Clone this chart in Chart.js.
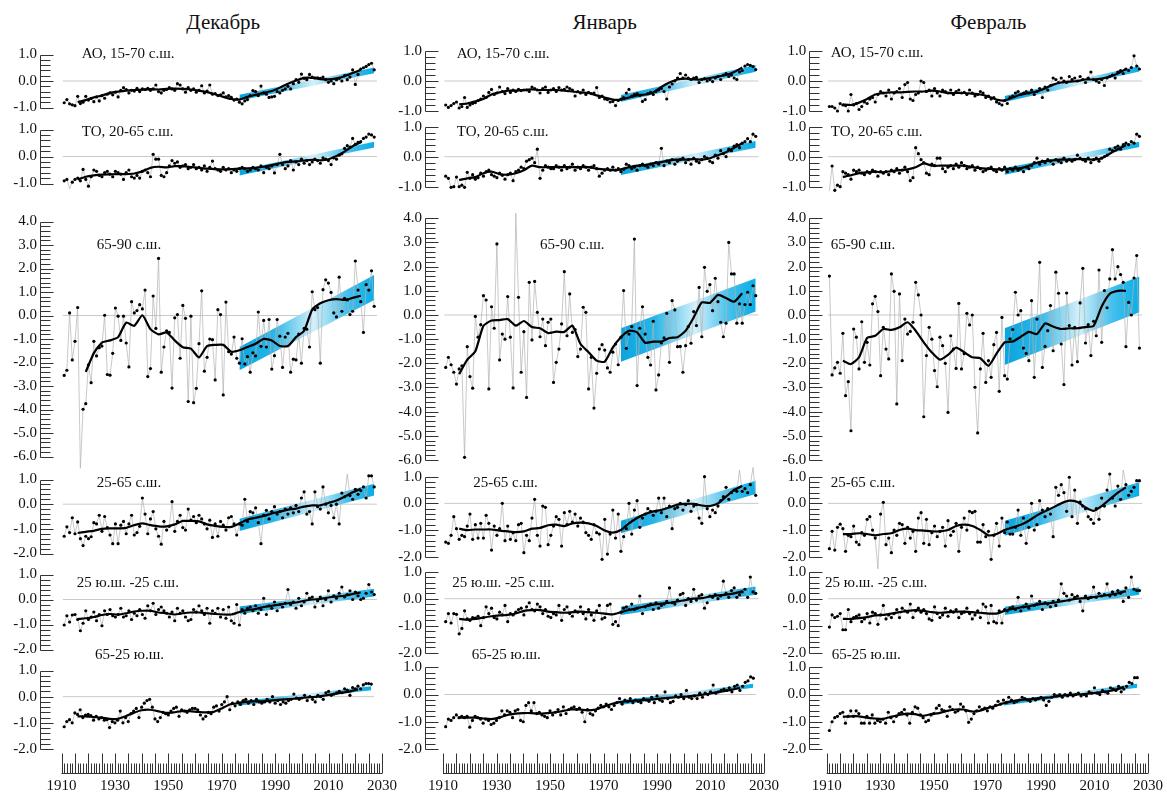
<!DOCTYPE html>
<html>
<head>
<meta charset="utf-8">
<script src="https://cdn.jsdelivr.net/npm/chart.js@4.4.1/dist/chart.umd.min.js"></script>
<style>
  body { margin: 0; background: #fff; width: 1167px; height: 794px; position: relative; overflow: hidden; font-family: 'Liberation Serif', 'Times New Roman', serif; }
  canvas { position: absolute; }
  .t { position: absolute; white-space: nowrap; color: #111; line-height: 1; transform: translateY(-50%); }
</style>
</head>
<body>
<script>
// ---- data -------------------------------------------------------------
const firstYear = 1911;
const years = Array.from({ length: 116 }, (_, i) => firstYear + i);
const smoothYears = [1916, 1919, 1922, 1925, 1928, 1931, 1934, 1937, 1940, 1943, 1946, 1949,
  1952, 1955, 1958, 1961, 1964, 1967, 1970, 1973, 1976, 1979, 1982, 1985,
  1988, 1991, 1994, 1997, 2000, 2003, 2006, 2009, 2012, 2015, 2018, 2021];
const trendYears = [1976, 2026];

const monthNames = ['Декабрь', 'Январь', 'Февраль'];
const zoneNames = ['АО, 15-70 с.ш.', 'ТО, 20-65 с.ш.', '65-90 с.ш.', '25-65 с.ш.', '25 ю.ш. -25 с.ш.', '65-25 ю.ш.'];
const xTickLabels = [1910, 1930, 1950, 1970, 1990, 2010, 2030];

// December
const decAO = [-0.82,-0.70,-0.86,-0.90,-0.93,-0.58,-0.85,-0.80,-0.58,-0.72,
  -0.66,-0.78,-0.60,-0.75,-0.55,-0.65,-0.50,-0.45,-0.52,-0.42,
  -0.60,-0.35,-0.25,-0.32,-0.45,-0.35,-0.38,-0.28,-0.40,-0.30,
  -0.32,-0.28,-0.35,-0.30,-0.15,-0.40,-0.45,-0.35,-0.32,-0.25,
  -0.30,-0.35,-0.10,-0.15,-0.30,-0.42,-0.25,-0.35,-0.30,-0.42,
  -0.35,-0.18,-0.45,-0.38,-0.15,-0.50,-0.48,-0.55,-0.52,-0.45,
  -0.60,-0.55,-0.62,-0.72,-0.68,-0.80,-0.86,-0.75,-0.70,-0.55,
  -0.36,-0.40,-0.55,-0.19,-0.45,-0.50,-0.62,-0.60,-0.58,-0.40,
  -0.45,-0.35,-0.30,-0.20,-0.30,-0.10,0.05,-0.05,0.26,0.10,
  0.05,0.25,0.15,0.12,0.12,0.10,0.15,0.05,-0.05,0.00,
  -0.10,0.05,0.10,0.00,0.20,0.05,0.15,0.42,-0.13,0.25,
  0.45,0.50,0.55,0.62,0.67,0.42];
const decAOSm = [-0.80,-0.72,-0.62,-0.55,-0.45,-0.40,-0.36,-0.34,-0.33,-0.31,-0.32,-0.30,
  -0.29,-0.30,-0.32,-0.36,-0.42,-0.50,-0.60,-0.68,-0.70,-0.60,-0.52,-0.45,
  -0.38,-0.25,-0.10,0.02,0.12,0.12,0.07,0.06,0.10,0.18,0.30,0.42];
const decAOUp = [-0.52, 0.51];
const decAOLo = [-0.74, 0.29];

const decTO = [-0.90,-0.85,-1.20,-0.95,-0.85,-0.80,-0.90,-0.48,-0.85,-1.10,
  -0.75,-0.50,-0.55,-0.70,-0.75,-0.60,-0.55,-0.65,-0.75,-0.55,
  -0.60,-0.65,-0.85,-0.60,-0.50,-0.75,-0.80,-0.70,-0.80,-0.55,
  -0.50,-0.60,-0.75,0.08,-0.10,-0.10,-0.70,-0.75,-0.60,-0.35,
  -0.15,-0.25,-0.20,-0.40,-0.35,-0.30,-0.45,-0.40,-0.30,-0.45,
  -0.40,-0.50,-0.35,-0.55,-0.40,-0.17,-0.45,-0.50,-0.55,-0.40,
  -0.50,-0.45,-0.60,-0.50,-0.55,-0.45,-0.40,-0.45,-0.55,-0.50,
  -0.40,-0.45,-0.50,-0.35,-0.60,-0.40,-0.45,-0.35,-0.61,-0.30,
  0.08,-0.30,-0.45,-0.35,-0.15,-0.50,-0.20,-0.30,-0.10,-0.25,
  -0.15,-0.30,-0.20,-0.10,-0.15,-0.25,-0.05,-0.10,-0.15,-0.30,
  -0.05,-0.10,0.05,0.10,0.30,0.40,0.35,0.67,0.45,0.52,
  0.55,0.67,0.72,0.83,0.80,0.72];
const decTOSm = [-0.85,-0.75,-0.70,-0.67,-0.66,-0.65,-0.65,-0.63,-0.55,-0.42,-0.38,-0.40,
  -0.36,-0.36,-0.39,-0.42,-0.45,-0.47,-0.48,-0.47,-0.45,-0.44,-0.42,-0.38,
  -0.32,-0.25,-0.20,-0.18,-0.15,-0.12,-0.14,-0.10,0.02,0.18,0.38,0.52];
const decTOUp = [-0.50, 0.55];
const decTOLo = [-0.70, 0.33];

const decArc = [-2.55,-2.33,0.11,-1.89,-1.10,0.34,-6.50,-3.99,-3.75,-2.10,
  -2.86,-1.10,-1.72,-1.37,-1.30,0.01,-2.51,-2.54,-1.61,0.32,
  -0.03,-1.06,-0.03,-1.17,-2.19,0.59,0.11,0.21,0.46,0.28,
  1.08,-2.60,-2.26,0.83,-0.55,2.43,-2.41,-1.34,-0.65,-0.72,
  -3.09,-0.10,0.04,-1.82,0.43,-0.12,-3.66,-0.03,-3.71,-3.10,
  -1.20,1.05,-2.37,-1.78,-1.00,-1.03,-2.74,0.25,0.04,-3.38,
  0.57,-1.54,-1.64,-0.92,-1.82,-2.03,-0.99,-2.06,-1.75,-2.41,
  -1.59,-1.72,0.15,-1.31,-0.21,-1.34,-0.17,-2.28,-1.71,-0.17,
  -0.88,-2.21,-0.92,-0.76,-2.41,-1.86,-1.89,-0.79,-2.03,-0.55,
  -0.58,-1.34,1.01,0.25,0.34,-2.03,1.10,1.52,1.38,0.98,
  0.11,-0.06,1.63,0.18,0.73,0.66,0.04,0.18,2.32,1.08,
  0.59,-0.72,1.31,1.08,1.90,0.39];
const decArcSm = [null,-2.40,-1.60,-1.15,-1.06,-0.92,-0.30,-0.44,0.01,-0.58,-0.80,-0.72,
  -1.06,-1.35,-1.41,-1.78,-1.30,-1.25,-1.25,-1.54,-1.48,-1.34,-1.20,-1.00,
  -1.06,-1.30,-1.30,-0.92,-0.65,0.25,0.52,0.65,0.70,0.66,0.75,0.84];
const decArcUp = [-1.34, 1.72];
const decArcLo = [-2.33, 0.66];

const decMid = [-1.30,-0.92,-1.15,-0.55,-1.20,-0.72,-1.40,-1.68,-1.30,-1.40,
  -1.32,-0.75,-0.80,-0.45,-1.10,-0.50,-0.95,-1.25,-1.60,-0.80,
  -1.60,-0.85,-0.70,-1.20,-0.80,-0.45,-1.25,-1.15,-0.90,0.25,
  -0.40,-1.20,-0.60,-0.30,-1.00,-1.30,-1.62,-0.70,-1.05,-0.90,
  0.10,-1.10,-0.70,-0.45,-0.95,-1.05,-0.20,-0.65,-0.50,-0.75,
  -0.45,-0.60,-0.80,-1.00,-0.65,-1.35,-0.80,-1.30,-0.70,-0.85,
  -1.05,-0.55,-0.50,-0.80,-1.25,-0.80,-0.85,0.20,-0.70,-0.30,
  -0.35,-0.15,-0.75,-1.60,-0.45,-0.25,-0.60,-0.30,-0.10,-0.40,
  -0.30,-0.55,-0.20,-0.40,-0.15,-0.35,-0.05,-0.30,0.25,0.50,
  -0.40,-0.30,-0.80,0.50,-0.10,-0.20,0.70,0.00,-0.35,-0.05,
  -0.55,0.00,-0.80,0.45,0.30,1.22,0.35,0.20,0.60,0.40,
  0.55,0.70,0.25,1.15,1.15,0.70];
const decMidSm = [-1.17,-1.12,-1.08,-1.00,-0.98,-0.98,-0.96,-0.85,-0.78,-0.85,-0.90,-0.90,
  -0.82,-0.68,-0.68,-0.70,-0.82,-0.88,-0.92,-0.92,-0.78,-0.62,-0.55,-0.48,
  -0.38,-0.30,-0.22,-0.18,-0.10,-0.05,-0.05,0.05,0.15,0.30,0.48,0.62];
const decMidUp = [-0.59, 0.83];
const decMidLo = [-1.09, 0.35];

const decTrop = [-1.02,-0.65,-0.90,-0.62,-0.60,-0.80,-1.25,-0.95,-0.45,-0.80,
  -0.70,-0.50,-0.85,-0.60,-1.05,-0.45,-0.60,-0.40,-0.65,-0.70,
  -0.60,-0.35,-0.70,-0.65,-0.45,-0.80,-0.55,-0.65,-0.40,-0.60,
  -0.75,-0.25,-0.45,-0.15,-0.60,-0.40,-0.30,-0.45,-0.55,-0.70,
  -0.50,-0.85,-0.35,-0.55,-0.45,-0.70,-0.85,-0.80,-0.40,-0.50,
  -0.25,-0.45,-0.60,-0.35,-0.95,-0.45,-0.55,-0.35,-0.70,-0.40,
  -0.75,-0.30,-0.85,-0.95,-0.20,-1.02,-0.40,-0.55,-0.35,-0.30,
  -0.45,-0.25,-0.55,-0.40,0.05,-0.60,-0.25,-0.35,-0.10,-0.45,
  -0.20,-0.30,-0.15,0.40,-0.20,-0.10,-0.35,0.05,-0.25,-0.10,
  0.25,0.05,0.10,-0.30,-0.05,0.10,-0.25,0.00,0.35,-0.10,
  0.15,0.05,0.25,0.50,0.10,0.20,0.35,0.00,0.30,0.15,
  0.00,0.05,0.25,0.60,0.30,0.20];
const decTropSm = [-0.78,-0.75,-0.70,-0.62,-0.58,-0.60,-0.55,-0.48,-0.45,-0.45,-0.52,-0.55,
  -0.60,-0.55,-0.52,-0.52,-0.55,-0.58,-0.60,-0.60,-0.50,-0.42,-0.38,-0.30,
  -0.25,-0.20,-0.15,-0.12,-0.05,0.00,0.02,0.08,0.12,0.15,0.22,0.28];
const decTropUp = [-0.28, 0.43];
const decTropLo = [-0.58, 0.12];

const decSouth = [-1.15,-0.95,-0.88,-1.00,-0.62,-0.68,-0.50,-0.80,-0.70,-0.68,
  -0.72,-0.90,-0.75,-0.85,-0.80,-0.90,-0.88,-1.18,-0.95,-1.00,
  -0.90,-0.55,-1.00,-0.80,-0.95,-0.65,-0.55,-0.45,-0.80,-0.40,
  -0.25,-0.15,-0.10,-0.40,-0.85,-0.95,-0.80,-0.60,-0.65,-0.70,
  -0.55,-0.45,-0.40,-0.75,-0.50,-0.55,-0.60,-0.50,-0.45,-0.45,
  -0.50,-0.70,-0.85,-0.75,-0.60,-0.65,-0.40,-0.35,-0.55,-0.30,
  -0.20,0.00,-0.50,-0.25,-0.35,-0.20,-0.30,-0.15,-0.10,-0.25,
  -0.15,-0.30,-0.10,-0.20,-0.25,-0.20,-0.10,-0.20,0.00,-0.25,
  -0.15,-0.30,-0.20,-0.25,-0.15,-0.10,0.10,-0.05,-0.10,-0.05,
  0.05,-0.15,0.00,-0.10,-0.20,0.05,0.00,-0.10,0.15,0.20,
  0.05,0.10,0.15,0.20,0.15,0.30,0.25,0.05,0.35,0.30,
  0.40,0.30,0.45,0.50,0.50,0.48];
const decSouthSm = [-0.75,-0.75,-0.78,-0.80,-0.85,-0.85,-0.75,-0.62,-0.52,-0.50,-0.55,-0.62,
  -0.60,-0.55,-0.55,-0.58,-0.60,-0.58,-0.45,-0.30,-0.25,-0.20,-0.18,-0.18,
  -0.15,-0.12,-0.10,-0.08,-0.05,-0.02,0.00,0.05,0.10,0.15,0.20,0.28];
const decSouthUp = [-0.18, 0.40];
const decSouthLo = [-0.35, 0.25];

// January
const janAO = [-0.80,-0.88,-0.82,-0.75,-0.70,-0.90,-0.85,-0.55,-0.88,-0.80,
  -0.75,-0.72,-0.65,-0.60,-0.50,-0.55,-0.38,-0.28,-0.45,-0.40,
  -0.20,-0.35,-0.42,-0.25,-0.38,-0.30,-0.35,-0.28,-0.32,-0.30,
  -0.30,-0.35,-0.20,-0.25,-0.30,-0.40,-0.25,-0.20,-0.38,-0.30,
  -0.25,-0.35,-0.22,-0.30,-0.28,-0.20,-0.25,-0.30,-0.50,-0.35,
  -0.40,-0.30,-0.45,-0.38,-0.42,-0.40,-0.22,-0.55,-0.50,-0.60,
  -0.62,-0.70,-0.68,-0.82,-0.65,-0.60,-0.55,-0.40,-0.28,-0.50,
  -0.45,-0.42,-0.48,-0.68,-0.62,-0.42,-0.38,-0.45,-0.35,-0.30,
  -0.25,-0.35,-0.60,-0.20,-0.10,0.00,0.10,0.25,0.10,0.20,
  0.10,0.05,0.10,0.12,-0.05,0.05,0.08,0.00,0.05,-0.02,
  0.10,0.15,0.05,0.20,0.25,0.15,0.20,0.10,0.05,0.30,
  0.35,0.50,0.55,0.52,0.48,0.38];
const janAOSm = [-0.78,-0.75,-0.68,-0.60,-0.45,-0.38,-0.32,-0.32,-0.30,-0.28,-0.30,-0.30,
  -0.30,-0.32,-0.35,-0.38,-0.40,-0.48,-0.55,-0.62,-0.62,-0.55,-0.48,-0.45,
  -0.38,-0.20,-0.05,0.05,0.08,0.05,0.05,0.10,0.15,0.20,0.30,0.45];
const janAOUp = [-0.47, 0.53];
const janAOLo = [-0.69, 0.31];

const janTO = [-0.65,-0.72,-1.02,-1.00,-0.68,-1.00,-0.95,-1.02,-0.52,-0.72,
  -0.60,-0.75,-0.70,-0.55,-0.65,-0.50,-0.45,-0.60,-0.65,-0.70,
  -0.55,-0.62,-0.75,-0.60,-0.55,-0.80,-0.50,-0.45,-0.35,-0.40,
  -0.15,-0.10,-0.05,-0.20,0.25,-0.72,-0.45,-0.30,-0.35,-0.40,
  -0.40,-0.30,-0.35,-0.45,-0.30,-0.40,-0.35,-0.25,-0.45,-0.35,
  -0.40,-0.30,-0.35,-0.45,-0.35,-0.30,-0.40,-0.65,-0.55,-0.45,
  -0.40,-0.45,-0.35,-0.45,-0.40,-0.50,-0.42,-0.25,-0.30,-0.40,
  -0.35,-0.45,-0.30,-0.25,-0.30,-0.35,-0.25,-0.30,-0.20,-0.25,
  0.28,-0.30,-0.15,-0.20,-0.10,-0.25,-0.15,-0.10,-0.05,-0.20,
  -0.10,-0.25,-0.05,-0.15,-0.20,-0.10,0.00,-0.05,-0.15,-0.20,
  0.05,-0.05,0.20,0.10,0.00,0.25,0.20,0.35,0.40,0.30,
  0.45,0.50,0.60,0.50,0.75,0.68];
const janTOSm = [-0.78,-0.72,-0.68,-0.55,-0.50,-0.58,-0.60,-0.55,-0.45,-0.30,-0.35,-0.35,
  -0.35,-0.35,-0.35,-0.35,-0.35,-0.40,-0.42,-0.45,-0.42,-0.35,-0.30,-0.28,
  -0.22,-0.18,-0.12,-0.10,-0.10,-0.08,-0.10,-0.05,0.05,0.15,0.30,0.45];
const janTOUp = [-0.39, 0.52];
const janTOLo = [-0.61, 0.30];

const janArc = [-2.17,-1.75,-2.06,-2.37,-2.86,-2.23,-2.10,-5.89,-1.31,-2.55,
  -3.03,-0.06,-0.92,-0.40,0.80,0.62,-3.06,0.34,-0.55,2.94,
  -1.86,-0.79,-1.00,0.76,-0.92,-3.02,4.21,0.73,-2.37,-0.69,
  -3.41,1.35,-1.03,1.39,0.11,-0.90,-0.17,-1.27,-0.30,-0.17,
  -2.79,-1.96,-1.41,-0.37,1.79,-0.86,0.87,-0.72,-0.60,-1.72,
  -1.41,0.32,0.11,-3.06,-1.75,-3.85,-2.41,-1.41,-1.23,-1.45,
  -2.19,-2.37,-1.54,-1.20,-2.06,-0.92,1.01,-1.38,-0.79,-0.48,
  3.14,-2.92,-0.55,0.34,-0.79,-1.75,-2.07,-0.26,-3.10,-2.48,
  -1.16,-0.95,0.07,-1.96,0.59,0.21,-1.31,-1.30,-2.37,-1.27,
  -0.48,-1.17,0.14,-0.44,1.14,-0.90,1.97,0.98,1.26,0.18,
  1.52,0.55,-0.30,-0.90,-0.34,3.00,1.70,1.70,-0.34,0.46,
  -0.34,0.43,0.94,0.43,1.21,0.80];
const janArcSm = [-2.45,-1.85,-1.50,-0.45,-0.23,-0.21,-0.17,-0.44,-0.25,-0.50,-0.55,-0.75,
  -0.69,-0.70,-0.44,-1.20,-1.54,-1.89,-1.93,-1.34,-0.92,-0.65,-0.72,-1.15,
  -1.10,-1.10,-0.95,-0.92,-0.65,-0.10,0.52,0.50,0.83,0.70,0.55,0.90];
const janArcUp = [-0.55, 1.52];
const janArcLo = [-1.93, 0.14];

const janMid = [-1.45,-1.50,-1.20,-0.50,-0.95,-1.35,-1.20,-1.25,-0.85,-0.40,
  -1.35,-0.80,-1.30,-0.75,-1.30,-0.45,-0.75,-1.75,-0.85,-1.20,
  -0.95,0.00,-1.40,-0.85,-1.35,-1.10,-1.40,-0.80,-0.75,-1.85,
  -1.20,-1.40,-0.55,0.15,-1.20,-1.60,-0.10,-0.15,-1.55,-1.20,
  -0.85,-0.50,-0.60,-1.60,-0.35,-0.80,-0.30,-0.70,-0.40,-0.85,
  -0.55,-0.70,-1.10,-1.20,-1.35,-0.80,-1.10,-1.15,-2.10,-0.60,
  -1.90,-1.15,-0.25,-1.30,-0.40,-1.80,-1.25,-0.95,0.00,-1.15,
  -0.25,0.10,-0.90,-0.55,-0.40,-0.20,-0.30,-0.45,-0.30,0.20,
  -0.35,0.20,-0.50,-0.10,-0.95,-0.20,-0.15,0.00,-0.25,-0.05,
  0.10,-0.30,-0.10,-0.05,-0.55,-0.75,1.00,-0.20,-0.50,-0.25,
  -0.35,-0.10,0.10,0.25,0.60,0.15,0.40,0.50,0.45,1.25,
  0.45,0.55,0.40,0.70,1.35,0.30];
const janMidSm = [-0.95,-1.00,-0.98,-0.98,-0.98,-1.02,-1.05,-1.08,-1.05,-0.95,-0.92,-0.82,
  -0.80,-0.85,-0.75,-0.72,-0.75,-0.85,-1.02,-1.10,-1.00,-0.75,-0.55,-0.40,
  -0.30,-0.25,-0.15,-0.05,-0.02,-0.02,-0.08,-0.10,0.00,0.25,0.50,0.65];
const janMidUp = [-0.65, 0.85];
const janMidLo = [-1.12, 0.35];

const janTrop = [-0.85,-0.55,-0.90,-0.55,-0.58,-1.30,-1.10,-0.45,-0.75,-0.80,
  -0.70,-0.72,-0.65,-1.00,-0.70,-0.30,-0.55,-0.35,-0.70,-0.75,
  -0.50,-0.60,-0.25,-0.85,-0.55,-0.60,-0.50,-0.40,-0.35,-0.60,
  -0.30,-0.15,-0.40,-0.45,-0.20,-0.30,-0.55,-0.40,-0.65,-0.70,
  -0.55,-0.60,-0.25,-0.80,-0.40,-0.30,-0.55,-0.65,-0.45,-0.50,
  -0.30,-0.55,-0.75,-0.40,-0.60,-0.80,-0.45,-0.25,-0.75,-0.70,
  -0.25,-0.20,-0.95,-0.85,-1.00,-0.50,-0.35,-0.30,-0.40,-0.20,
  -0.40,-0.35,0.10,-0.55,-0.30,-0.25,-0.20,-0.40,-0.15,-0.35,
  -0.25,-0.20,-0.10,0.40,-0.15,-0.20,-0.05,0.15,0.20,-0.25,
  0.00,-0.10,0.35,-0.05,0.10,0.15,-0.35,-0.15,0.10,0.05,
  0.15,0.00,0.10,0.65,0.20,0.05,0.30,0.40,0.05,0.15,
  0.25,0.35,0.05,0.80,0.25,0.20];
const janTropSm = [-0.75,-0.78,-0.75,-0.70,-0.65,-0.62,-0.60,-0.55,-0.45,-0.42,-0.42,-0.48,
  -0.50,-0.52,-0.50,-0.48,-0.50,-0.52,-0.55,-0.58,-0.50,-0.42,-0.35,-0.28,
  -0.22,-0.18,-0.15,-0.10,-0.05,0.00,0.02,0.08,0.12,0.15,0.20,0.27];
const janTropUp = [-0.30, 0.45];
const janTropLo = [-0.60, 0.15];

const janSouth = [-1.18,-0.90,-0.95,-0.85,-0.75,-0.85,-0.80,-0.85,-0.80,-1.20,
  -0.95,-0.80,-0.85,-0.90,-1.05,-0.90,-0.95,-1.10,-1.05,-0.95,
  -0.85,-0.60,-0.75,-0.60,-0.65,-0.85,-0.60,-0.55,-0.95,-1.00,
  -0.40,-0.30,-0.60,-0.30,-0.70,-0.65,-0.75,-0.80,-0.85,-0.60,
  -0.75,-0.65,-0.55,-0.75,-0.45,-0.70,-0.55,-0.50,-0.45,-0.55,
  -0.50,-0.65,-1.00,-0.55,-0.70,-0.75,-0.60,-0.50,-0.40,-0.45,
  -0.35,-0.45,-0.55,-0.40,-0.30,-0.15,-0.35,-0.20,-0.25,-0.15,
  -0.30,-0.20,-0.25,-0.30,-0.15,-0.20,-0.25,-0.10,-0.30,-0.05,
  -0.20,-0.25,0.10,-0.15,-0.30,-0.25,-0.05,-0.10,0.00,-0.15,
  0.15,-0.10,-0.15,-0.05,-0.15,0.05,-0.10,0.05,0.00,0.10,
  0.35,0.05,0.10,0.15,0.20,0.15,0.25,0.10,0.30,0.35,
  0.15,0.30,0.45,0.50,0.65,0.60];
const janSouthSm = [-0.85,-0.85,-0.85,-0.88,-0.90,-0.85,-0.75,-0.70,-0.68,-0.68,-0.70,-0.68,
  -0.65,-0.60,-0.55,-0.55,-0.58,-0.55,-0.45,-0.35,-0.28,-0.25,-0.22,-0.20,
  -0.18,-0.15,-0.12,-0.10,-0.08,-0.05,-0.02,0.02,0.08,0.12,0.18,0.25];
const janSouthUp = [-0.22, 0.40];
const janSouthLo = [-0.38, 0.25];

// February
const febAO = [-0.85,-0.85,-0.90,-1.00,-0.75,-0.80,-0.82,-1.00,-0.45,-0.80,
  -0.75,-0.95,-0.85,-0.70,-0.75,-0.60,-0.55,-0.70,-0.45,-0.35,
  -0.40,-0.50,-0.30,-0.60,-0.40,-0.35,-0.25,-0.55,-0.12,-0.05,
  -0.60,-0.65,-0.45,-0.40,0.00,-0.05,-0.35,-0.30,-0.50,-0.25,
  -0.40,-0.50,-0.30,-0.35,-0.40,-0.30,-0.45,-0.35,-0.30,-0.40,
  -0.38,-0.45,-0.30,-0.40,-0.50,-0.45,-0.35,-0.40,-0.55,-0.50,
  -0.60,-0.55,-0.70,-0.75,-0.80,-0.65,-0.75,-0.55,-0.50,-0.40,
  -0.35,-0.45,-0.40,-0.35,-0.40,-0.30,-0.45,-0.35,-0.25,-0.55,
  -0.20,-0.30,-0.15,0.10,0.05,-0.05,0.10,0.00,-0.05,0.15,
  0.05,0.10,0.00,0.15,0.05,-0.05,0.10,0.30,0.05,0.00,
  -0.05,0.05,-0.15,0.10,0.15,0.20,0.10,0.30,0.35,0.25,
  0.40,0.35,0.45,0.84,0.50,0.40];
const febAOSm = [-0.78,-0.80,-0.72,-0.60,-0.45,-0.40,-0.38,-0.38,-0.36,-0.35,-0.35,-0.32,
  -0.35,-0.40,-0.40,-0.40,-0.42,-0.45,-0.52,-0.62,-0.65,-0.55,-0.45,-0.40,
  -0.35,-0.25,-0.12,-0.05,-0.02,0.00,0.05,0.05,0.08,0.15,0.25,0.40];
const febAOUp = [-0.50, 0.50];
const febAOLo = [-0.70, 0.32];

const febTO = [-1.14,-0.31,-1.12,-0.95,-1.00,-0.50,-0.55,-0.60,-0.75,-0.45,
  -0.50,-0.45,-0.55,-0.60,-0.50,-0.55,-0.45,-0.50,-0.65,-0.50,
  -0.55,-0.50,-0.60,-0.45,-0.50,-0.40,-0.55,-0.45,-0.35,-0.50,
  -0.80,-0.70,0.30,0.10,-0.10,-0.20,-0.55,-0.60,-0.25,-0.30,
  -0.05,-0.05,-0.40,-0.50,-0.35,-0.30,-0.40,-0.25,-0.35,-0.20,
  -0.30,-0.40,-0.35,-0.30,-0.45,-0.35,-0.40,-0.50,-0.45,-0.40,
  -0.35,-0.45,-0.50,-0.40,-0.45,-0.35,-0.50,-0.40,-0.45,-0.35,
  -0.45,-0.40,-0.50,-0.35,-0.40,-0.30,-0.20,-0.05,-0.25,-0.15,
  -0.20,-0.10,-0.15,-0.25,-0.10,-0.15,-0.20,-0.05,-0.15,-0.10,
  -0.15,-0.10,0.05,-0.05,-0.10,-0.15,-0.05,-0.20,-0.10,-0.05,
  -0.15,-0.05,0.00,0.05,0.25,0.20,0.30,0.35,0.25,0.40,
  0.45,0.40,0.50,0.45,0.75,0.68];
const febTOSm = [-0.68,-0.62,-0.55,-0.52,-0.50,-0.52,-0.48,-0.45,-0.42,-0.35,-0.22,-0.30,
  -0.30,-0.30,-0.30,-0.30,-0.35,-0.38,-0.40,-0.42,-0.42,-0.40,-0.38,-0.30,
  -0.20,-0.15,-0.12,-0.10,-0.10,-0.08,-0.08,-0.10,-0.05,0.10,0.25,0.38];
const febTOUp = [-0.38, 0.50];
const febTOLo = [-0.60, 0.32];

const febArc = [1.61,-2.48,-2.19,-1.96,-2.41,-0.76,-3.34,-2.76,-4.79,-0.58,
  -0.92,-2.23,-0.28,-1.96,-1.13,-2.07,0.46,0.77,0.14,-2.51,
  -0.51,-1.41,-1.82,1.70,0.98,-3.68,0.87,-1.89,-0.17,-0.79,
  -0.68,-0.30,1.35,0.83,0.00,-4.21,-1.68,-0.51,-1.00,-2.30,
  -2.97,-0.92,-1.27,-2.00,-4.03,-0.86,-1.41,-2.21,0.48,-2.23,
  -1.60,0.07,-0.41,0.00,-2.99,-4.88,-2.23,-0.76,-2.79,-1.89,
  -2.58,-1.23,-0.72,-3.16,-0.10,-2.51,-2.65,-0.99,-0.60,0.94,
  0.00,0.18,-1.37,-1.59,-1.89,0.59,-2.58,-0.17,2.18,-2.17,
  -1.30,-0.65,0.39,-1.48,1.77,0.90,-1.20,-2.88,0.91,-0.44,
  -2.07,-0.51,-1.93,0.50,1.93,-1.16,-0.40,-1.68,-0.26,-0.86,
  1.86,-1.13,1.01,0.30,1.49,2.70,1.49,2.00,1.67,1.35,
  -1.31,0.52,0.00,1.53,2.46,-1.37];
const febArcSm = [-1.89,-2.03,-1.75,-0.95,-0.86,-0.58,-0.62,-0.51,-0.30,-0.65,-1.13,-1.55,
  -1.85,-1.65,-1.35,-1.54,-1.75,-1.79,-2.10,-1.60,-1.13,-1.10,-0.90,-0.70,
  -0.79,-0.35,-0.48,-0.58,-0.55,-0.55,-0.50,-0.45,0.35,0.88,1.00,1.00];
const febArcUp = [-0.55, 1.59];
const febArcLo = [-2.07, 0.11];

const febMid = [-1.70,-1.05,-1.75,-0.90,-0.78,-0.95,-1.80,-1.20,-1.25,-0.85,
  -1.45,-1.55,-1.10,-1.20,-0.60,-0.50,-1.00,-1.30,-2.46,-0.40,
  0.04,-1.55,-1.30,-1.85,-1.00,-1.20,-0.75,-0.80,-1.50,-0.90,
  -1.30,-1.05,-1.80,-0.55,-0.35,-1.50,-0.60,-1.55,-1.10,-0.85,
  -1.25,-1.05,-0.90,-1.60,-0.65,-1.20,-1.05,-0.75,-1.80,-0.90,
  -0.55,-1.00,-0.30,-0.35,-0.30,-1.45,-1.45,-0.80,-1.25,-1.05,
  -2.10,-1.20,-0.75,-1.60,-0.55,-1.10,-0.70,-1.15,-1.15,-0.90,
  -0.25,-1.20,-0.55,-1.50,-0.90,0.00,-1.00,-0.80,0.10,-0.25,
  -0.50,-0.20,-0.40,-1.25,0.60,0.30,0.70,0.40,-0.30,0.98,
  -0.50,0.50,-0.75,0.05,-0.10,-0.20,-0.50,-0.60,-0.75,-0.20,
  -0.60,0.20,-0.10,0.50,1.10,0.20,-0.10,0.65,0.15,1.25,
  0.70,0.30,0.45,0.60,0.85,0.85];
const febMidSm = [-1.15,-1.15,-1.12,-1.15,-1.20,-1.15,-1.12,-1.00,-0.95,-1.00,-1.02,-1.05,
  -1.05,-1.00,-0.85,-0.80,-0.85,-1.00,-1.20,-1.15,-1.00,-0.90,-0.80,-0.65,
  -0.45,-0.30,-0.15,0.00,0.10,0.05,-0.15,-0.28,-0.10,0.15,0.40,0.60];
const febMidUp = [-0.65, 0.79];
const febMidLo = [-1.21, 0.29];

const febTrop = [-1.05,-0.60,-0.70,-0.65,-0.55,-1.15,-1.15,-0.40,-0.85,-0.70,
  -0.65,-0.60,-0.85,-0.75,-0.55,-0.90,-0.50,-0.55,-0.95,-0.60,
  -0.25,-0.75,-0.60,-0.70,-0.55,-0.40,-0.70,-0.35,-0.45,-0.50,
  -0.20,-0.70,-0.45,-0.35,-0.50,-0.40,-0.55,-0.75,-0.80,-0.30,
  -0.55,-0.70,-0.60,-0.35,-0.65,-0.45,-0.50,-0.40,-0.70,-0.55,
  -0.50,-0.35,-0.55,-0.75,-0.60,-0.45,-0.70,-0.20,-0.30,-0.90,
  -0.25,-0.85,-0.90,-0.45,-0.90,-0.40,-0.45,-0.35,-0.30,-0.40,
  0.05,-0.45,-0.30,-0.20,-0.35,0.10,-0.25,-0.20,-0.10,-0.40,
  -0.15,-0.20,-0.30,-0.10,-0.25,-0.05,0.55,0.20,0.10,-0.05,
  0.15,0.05,0.10,-0.10,-0.45,0.10,0.00,0.05,0.43,0.05,
  0.20,0.10,0.15,0.55,0.10,0.25,0.15,0.30,0.20,-0.10,
  0.40,0.05,0.80,0.35,0.30,0.30];
const febTropSm = [-0.75,-0.75,-0.72,-0.68,-0.62,-0.60,-0.55,-0.50,-0.45,-0.42,-0.45,-0.50,
  -0.52,-0.50,-0.48,-0.48,-0.50,-0.52,-0.55,-0.55,-0.45,-0.38,-0.32,-0.28,
  -0.22,-0.18,-0.15,-0.10,-0.05,0.00,0.02,0.06,0.10,0.15,0.20,0.28];
const febTropUp = [-0.30, 0.42];
const febTropLo = [-0.60, 0.15];

const febSouth = [-1.32,-1.00,-0.85,-0.80,-0.70,-0.65,-1.05,-0.80,-0.60,-0.80,
  -0.60,-0.70,-1.05,-1.05,-0.80,-1.05,-0.75,-1.05,-0.95,-1.00,
  -0.90,-1.05,-0.65,-0.85,-1.00,-0.80,-0.70,-0.65,-0.55,-0.75,
  -1.05,-0.65,-0.45,-0.50,-0.75,-0.85,-1.00,-0.95,-0.75,-0.70,
  -0.50,-0.40,-0.55,-0.60,-0.80,-0.45,-0.55,-0.65,-0.60,-0.35,
  -0.45,-0.60,-1.02,-0.90,-0.70,-0.60,-0.45,-0.55,-0.50,-0.60,
  -0.45,-0.50,-0.40,-0.25,-0.35,-0.20,-0.30,-0.10,-0.20,-0.30,
  -0.25,-0.20,-0.10,-0.15,-0.20,-0.25,-0.15,-0.20,-0.15,-0.10,
  -0.20,-0.40,-0.25,-0.10,0.00,-0.05,0.00,-0.10,0.00,-0.05,
  0.05,-0.05,0.00,0.05,-0.05,0.00,-0.05,0.10,0.05,0.25,
  0.05,0.00,0.15,0.10,0.05,0.25,0.20,0.15,0.30,0.10,
  0.20,0.30,0.45,0.40,0.62,0.62];
const febSouthSm = [-0.82,-0.80,-0.80,-0.85,-0.88,-0.90,-0.82,-0.75,-0.70,-0.72,-0.78,-0.72,
  -0.68,-0.60,-0.55,-0.55,-0.62,-0.60,-0.50,-0.42,-0.32,-0.25,-0.20,-0.18,
  -0.15,-0.12,-0.10,-0.05,-0.02,0.00,0.02,0.05,0.08,0.12,0.18,0.28];
const febSouthUp = [-0.25, 0.40];
const febSouthLo = [-0.40, 0.25];

// ---- layout -----------------------------------------------------------
const colX = [61.5, 443, 826.7];          // pixel of 1910 in each column
const colW = 323.5;                       // 1910..2030
const axisGap = [21.5, 18, 17.5];         // y axis line left of 1910
const rowBox = [[51, 111], [126.7, 186.7], [218.3, 460], [476.7, 556.7], [571.7, 652.7], [667.3, 749]];
const rowRange = [[-1, 1], [-1, 1], [-6, 4], [-2, 1], [-2, 1], [-2, 1]];
const titlePos = [
  [[81.7, 53], [81.7, 131], [96.7, 244.3], [96.7, 481.7], [76.7, 582.3], [95, 653.5]],
  [[456.7, 53], [456.7, 131], [540, 244.3], [473.3, 481.7], [452.3, 582.3], [471.7, 653.5]],
  [[830.7, 52], [830.7, 131], [830.7, 244.3], [830.7, 481.7], [825, 582.3], [831.7, 654]]
];

const panels = [
  [decAO, decAOSm, decAOUp, decAOLo], [decTO, decTOSm, decTOUp, decTOLo],
  [decArc, decArcSm, decArcUp, decArcLo], [decMid, decMidSm, decMidUp, decMidLo],
  [decTrop, decTropSm, decTropUp, decTropLo], [decSouth, decSouthSm, decSouthUp, decSouthLo],
  [janAO, janAOSm, janAOUp, janAOLo], [janTO, janTOSm, janTOUp, janTOLo],
  [janArc, janArcSm, janArcUp, janArcLo], [janMid, janMidSm, janMidUp, janMidLo],
  [janTrop, janTropSm, janTropUp, janTropLo], [janSouth, janSouthSm, janSouthUp, janSouthLo],
  [febAO, febAOSm, febAOUp, febAOLo], [febTO, febTOSm, febTOUp, febTOLo],
  [febArc, febArcSm, febArcUp, febArcLo], [febMid, febMidSm, febMidUp, febMidLo],
  [febTrop, febTropSm, febTropUp, febTropLo], [febSouth, febSouthSm, febSouthUp, febSouthLo]
];

// tick marks and x axis drawn from the chart's own scales
const axisMarks = {
  id: 'axisMarks',
  afterDraw(chart, args, opts) {
    const { ctx, chartArea } = chart;
    const ys = chart.scales.y, xs = chart.scales.x;
    const ax = Math.round(chartArea.left - opts.gap) + 0.5;
    ctx.save();
    ctx.strokeStyle = '#333';
    ctx.lineWidth = 1;
    ctx.beginPath();
    ctx.moveTo(ax, Math.round(ys.getPixelForValue(ys.max)) + 0.5);
    ctx.lineTo(ax, Math.round(ys.getPixelForValue(ys.min)) + 0.5);
    ys.ticks.forEach(t => {
      const py = Math.round(ys.getPixelForValue(t.value)) + 0.5;
      const major = Math.abs(t.value - Math.round(t.value)) < 1e-6;
      ctx.moveTo(ax, py);
      ctx.lineTo(ax + (major ? 13 : 10), py);
    });
    ctx.stroke();
    if (opts.xAxis) {
      const base = Math.round(chartArea.bottom + 24) + 0.5;
      ctx.beginPath();
      ctx.moveTo(xs.getPixelForValue(1910), base);
      ctx.lineTo(xs.getPixelForValue(2030), base);
      for (let yr = 1910; yr <= 2030; yr++) {
        const px = Math.round(xs.getPixelForValue(yr)) + 0.5;
        ctx.moveTo(px, base);
        ctx.lineTo(px, base - (yr % 5 === 0 ? 20 : 10));
      }
      ctx.stroke();
    }
    ctx.restore();
  }
};

function bandFill(context) {
  const chart = context.chart;
  const xs = chart.scales.x;
  if (!xs || !chart.chartArea) return 'rgba(20,170,226,0.8)';
  const x0 = xs.getPixelForValue(trendYears[0]);
  const x1 = xs.getPixelForValue(trendYears[1]);
  const g = chart.ctx.createLinearGradient(x0, 0, x1, 0);
  g.addColorStop(0, '#08a5de');
  g.addColorStop(0.25, '#2ab5e7');
  g.addColorStop(0.55, '#d4f0fa');
  g.addColorStop(0.8, '#45c0ec');
  g.addColorStop(1, '#08ade6');
  return g;
}

function addText(txt, x, y, size, center) {
  const d = document.createElement('div');
  d.className = 't';
  d.textContent = txt;
  d.style.fontSize = size + 'px';
  d.style.top = y + 'px';
  d.style.left = x + 'px';
  if (center) d.style.transform = 'translate(-50%,-50%)';
  document.body.appendChild(d);
}

monthNames.forEach((m, c) => addText(m, colX[c] + colW / 2, 22, 21, true));

panels.forEach((p, k) => {
  const col = Math.floor(k / 6), row = k % 6;
  const [vals, sm, up, lo] = p;
  const [top, bottom] = rowBox[row];
  const [ymin, ymax] = rowRange[row];
  const last = row === 5;
  const yW = 60;
  const margin = 30;
  const xH = last ? 46 : 0;
  const left = Math.floor(colX[col]) - yW;
  const cTop = Math.floor(top) - margin;
  const width = Math.ceil(colX[col] + colW + 40) - left;
  const height = Math.ceil(bottom + xH + (last ? 12 : margin)) - cTop;
  // wanted chart area, in canvas coordinates
  const want = { left: colX[col] - left, right: colX[col] + colW - left, top: top - cTop, bottom: bottom - cTop };

  const cv = document.createElement('canvas');
  cv.width = width; cv.height = height;
  cv.style.left = left + 'px'; cv.style.top = cTop + 'px';
  cv.style.width = width + 'px'; cv.style.height = height + 'px';
  document.body.appendChild(cv);

  const chart = new Chart(cv.getContext('2d'), {
    type: 'line',
    data: {
      datasets: [
        { data: smoothYears.map((x, i) => ({ x, y: sm[i] })), borderColor: '#000', borderWidth: 2.2,
          pointRadius: 0, tension: 0.2, clip: false, order: 0 },
        { data: years.map((x, i) => ({ x, y: vals[i] })), borderColor: '#b2b2b2', borderWidth: 0.7,
          pointRadius: 1.6, pointBackgroundColor: '#000', pointBorderWidth: 0, tension: 0, clip: false, order: 1 },
        { data: trendYears.map((x, i) => ({ x, y: up[i] })), borderWidth: 0, pointRadius: 0, fill: false, order: 3 },
        { data: trendYears.map((x, i) => ({ x, y: lo[i] })), borderWidth: 0, pointRadius: 0,
          fill: '-1', backgroundColor: bandFill, order: 3 },
        { data: [{ x: 1910.5, y: 0 }, { x: 2027, y: 0 }], borderColor: '#c9c9c9', borderWidth: 1,
          pointRadius: 0, order: 4 }
      ]
    },
    options: {
      responsive: false,
      animation: false,
      devicePixelRatio: 1,
      events: [],
      layout: { autoPadding: false, padding: { left: want.left - yW, right: width - want.right, top: want.top, bottom: height - want.bottom - xH } },
      plugins: { legend: { display: false }, tooltip: { enabled: false }, axisMarks: { gap: axisGap[col], xAxis: last } },
      scales: {
        x: {
          type: 'linear', min: 1910, max: 2030, display: last,
          grid: { drawOnChartArea: false, drawTicks: false },
          border: { display: false },
          afterFit: s => { s.height = xH; },
          afterBuildTicks: s => { s.ticks = xTickLabels.map(v => ({ value: v })); },
          ticks: { padding: 28, color: '#111', maxRotation: 0, autoSkip: false,
            font: { family: 'Liberation Serif', size: 15 }, callback: v => String(v) }
        },
        y: {
          min: ymin, max: ymax,
          grid: { drawOnChartArea: false, drawTicks: false },
          border: { display: false },
          afterFit: s => { s.width = yW; },
          ticks: {
            stepSize: 0.2, autoSkip: false, maxTicksLimit: 200, padding: axisGap[col] + 3, color: '#111',
            font: { family: 'Liberation Serif', size: 15 },
            callback: v => Math.abs(v - Math.round(v)) < 1e-6 ? Math.round(v).toFixed(1) : ''
          }
        }
      }
    },
    plugins: [axisMarks]
  });

  // nudge the layout padding until the plot area sits where the reference has it
  for (let it = 0; it < 3; it++) {
    const a = chart.chartArea;
    const pad = chart.options.layout.padding;
    const dl = want.left - a.left, dr = a.right - want.right, dt = want.top - a.top, db = a.bottom - want.bottom;
    if (Math.abs(dl) + Math.abs(dr) + Math.abs(dt) + Math.abs(db) < 0.2) break;
    chart.options.layout.padding = {
      left: Math.max(0, pad.left + dl), right: Math.max(0, pad.right + dr),
      top: Math.max(0, pad.top + dt), bottom: Math.max(0, pad.bottom + db)
    };
    chart.update();
  }

  const tp = titlePos[col][row];
  addText(zoneNames[row], tp[0], tp[1], 15, false);
});
</script>
</body>
</html>
